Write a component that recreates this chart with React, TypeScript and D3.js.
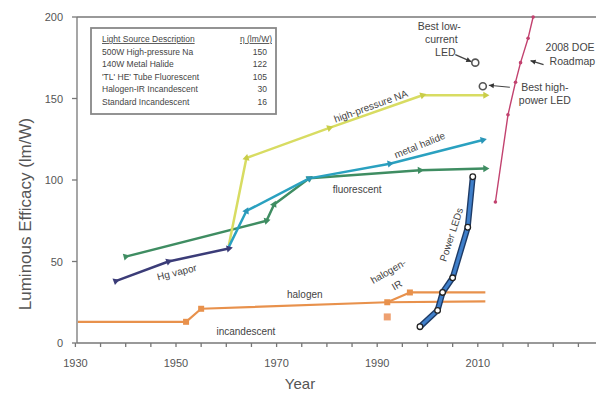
import * as React from 'react';
import * as d3 from 'd3';

type Pt = [number, number];

// series: [year, lm/W]
const incandescent: Pt[] = [[1930.5, 13], [1952, 13], [1955, 21], [1992, 25], [2011.5, 25.5]];
const halogenIR: Pt[] = [[1992, 25], [1996.5, 31], [2011.5, 31]];
const standardIncandescent: Pt[] = [[1992, 16]];
const hgVapor: Pt[] = [[1938, 38], [1948.5, 50], [1960.5, 58]];
const fluorescent: Pt[] = [[1940, 53], [1968, 75], [1969.5, 85], [1976.5, 101], [1998.5, 106], [2011.5, 107]];
const metalHalide: Pt[] = [[1960.5, 59], [1964, 81], [1976.5, 101], [1992.5, 110], [2011, 124.5]];
const highPressureNa: Pt[] = [[1960.5, 60], [1964, 113.5], [1980.5, 132], [1999, 152], [2011.5, 152]];
const powerLEDs: Pt[] = [[1998.5, 10], [2002, 20], [2003, 31], [2005, 40], [2008, 71], [2009, 102]];
const doeRoadmap: Pt[] = [[2013.5, 86.5], [2016, 140], [2017.5, 160], [2018.5, 172], [2020, 187], [2021, 200]];
const bestLowCurrent: Pt = [2009.5, 172];
const bestHighPower: Pt = [2011, 157.5];

const xTickLabels = [1930, 1950, 1970, 1990, 2010];
const yTicks = [0, 50, 100, 150, 200];

const tableRows = [
  ['500W High-pressure Na', '150'],
  ['140W Metal Halide', '122'],
  ["'TL' HE' Tube Fluorescent", '105'],
  ['Halogen-IR Incandescent', '30'],
  ['Standard Incandescent', '16'],
];

// curve labels: text, year, value, angle
const curveLabels: [string, number, number, number][] = [
  ['high-pressure NA', 1988.8, 144.8, -20],
  ['metal halide', 1998.5, 120.9, -22],
  ['fluorescent', 1986, 93.9, 0],
  ['Hg vapor', 1950.2, 42.9, -14],
  ['halogen', 1975.6, 29.4, 0],
  ['incandescent', 1963.9, 6.7, 0],
  ['halogen-', 1992.3, 43.5, -30],
  ['IR', 1994, 35, -30],
  ['Power LEDs', 2004.9, 66.3, -72],
];

const W = 596;
const H = 394;
const FONT = 'Liberation Sans, Arial, sans-serif';

const x = d3.scaleLinear().domain([1970, 2010]).range([276.6, 477.8]);
const y = d3.scaleLinear().domain([0, 200]).range([343, 17]);

const line = d3.line<Pt>().x(d => x(d[0])).y(d => y(d[1]));

const tri = d3.symbol().type(d3.symbolTriangle).size(22)();

// small triangles along a series, pointing along the segment
const Markers = ({data, color, skipFirst = false}: {data: Pt[], color: string, skipFirst?: boolean}) => (
  <g fill={color}>
    {data.map((d, i) => {
      if (i === 0 && skipFirst) return null;
      const a = i > 0 ? data[i - 1] : data[1];
      const ang = Math.atan2(y(d[1]) - y(a[1]), x(d[0]) - x(a[0])) * 180 / Math.PI + (i > 0 ? 90 : -90);
      return <path key={i} d={tri!} transform={`translate(${x(d[0])},${y(d[1])}) rotate(${ang})`}/>;
    })}
  </g>
);

const Arrow = ({x1, y1, x2, y2}: {x1: number, y1: number, x2: number, y2: number}) => {
  const ang = Math.atan2(y2 - y1, x2 - x1) * 180 / Math.PI;
  return (
    <g>
      <line x1={x1} y1={y1} x2={x2} y2={y2} stroke="#444" strokeWidth={1.2}/>
      <path d="M0,0 L-5,-2.5 L-5,2.5 Z" fill="#333" transform={`translate(${x2},${y2}) rotate(${ang})`}/>
    </g>
  );
};

export default function App() {
  const minorTicks = d3.range(1930, 2035, 5);
  const lc = [x(bestLowCurrent[0]), y(bestLowCurrent[1])];
  const hp = [x(bestHighPower[0]), y(bestHighPower[1])];
  const rm = doeRoadmap[3];
  const rmPx = [x(rm[0]), y(rm[1])];

  return (
    <svg width={W} height={H} style={{position: 'absolute', left: 0, top: 0, background: '#fff'}}>
      {/* frame */}
      <g stroke="#777" strokeWidth={1.3}>
        <line x1={77} y1={17} x2={W} y2={17}/>
        <line x1={77} y1={17} x2={77} y2={343}/>
        <line x1={77} y1={343} x2={W} y2={343}/>
        {minorTicks.map(t => <line key={t} x1={x(t)} x2={x(t)} y1={343} y2={347}/>)}
        {yTicks.map(t => <line key={t} x1={72} x2={77} y1={y(t)} y2={y(t)}/>)}
      </g>
      <g fontFamily={FONT} fontSize={11} fill="#555">
        {xTickLabels.map(t => <text key={t} x={x(t)} y={367} textAnchor="middle">{t}</text>)}
        {yTicks.map(t => <text key={t} x={63} y={y(t) + 4} textAnchor="end">{t}</text>)}
      </g>
      <text x={300} y={389} textAnchor="middle" fontFamily={FONT} fontSize={15} fill="#555">Year</text>
      <text transform="translate(31,214) rotate(-90)" textAnchor="middle" fontFamily={FONT} fontSize={17} fill="#555">
        Luminous Efficacy (lm/W)
      </text>

      {/* table */}
      <rect x={91} y={28} width={185} height={86} fill="#fff" stroke="#888" strokeWidth={1.8}/>
      <g fontFamily={FONT} fontSize={8.5} fill="#444">
        <text x={102} y={42} textDecoration="underline">Light Source Description</text>
        <text x={272} y={42} textAnchor="end" textDecoration="underline">η (lm/W)</text>
        {tableRows.map((r, i) => (
          <g key={r[0]}>
            <text x={102} y={55 + i * 12.4}>{r[0]}</text>
            <text x={267} y={55 + i * 12.4} textAnchor="end">{r[1]}</text>
          </g>
        ))}
      </g>

      {/* series */}
      <g fill="none" strokeLinejoin="round">
        <path d={line(incandescent)!} stroke="#e8914c" strokeWidth={2.2}/>
        <path d={line(halogenIR)!} stroke="#e8914c" strokeWidth={2.2}/>
        <path d={line(hgVapor)!} stroke="#3b3c78" strokeWidth={2.5}/>
        <path d={line(fluorescent)!} stroke="#3f8d62" strokeWidth={2.5}/>
        <path d={line(highPressureNa)!} stroke="#d8dc62" strokeWidth={2.5}/>
        <path d={line(metalHalide)!} stroke="#2aa1c0" strokeWidth={2.5}/>
        <path d={line(doeRoadmap)!} stroke="#c2426f" strokeWidth={1.4}/>
        <path d={line(powerLEDs)!} stroke="#1e3b66" strokeWidth={6}/>
        <path d={line(powerLEDs)!} stroke="#3f7fca" strokeWidth={3.2}/>
      </g>
      <g fill="#e8914c">
        {[incandescent[1], incandescent[2], incandescent[3], halogenIR[1]].map((d, i) => (
          <rect key={i} x={x(d[0]) - 3} y={y(d[1]) - 3} width={6} height={6}/>
        ))}
        {standardIncandescent.map((d, i) => (
          <rect key={i} x={x(d[0]) - 3.5} y={y(d[1]) - 3.5} width={7} height={7} fill="#eea070"/>
        ))}
      </g>
      <Markers data={hgVapor} color="#3b3c78"/>
      <Markers data={fluorescent} color="#3f8d62"/>
      <Markers data={highPressureNa} color="#c9cd48" skipFirst/>
      <Markers data={metalHalide} color="#2a96b8" skipFirst/>
      <g fill="#c2426f">
        {doeRoadmap.map((d, i) => <circle key={i} cx={x(d[0])} cy={y(d[1])} r={1.8}/>)}
      </g>
      <g fill="#fff" stroke="#222" strokeWidth={1.3}>
        {powerLEDs.map((d, i) => <circle key={i} cx={x(d[0])} cy={y(d[1])} r={2.8}/>)}
      </g>
      <g fill="#fff" stroke="#555" strokeWidth={1.6}>
        <circle cx={lc[0]} cy={lc[1]} r={3.5}/>
        <circle cx={hp[0]} cy={hp[1]} r={3.5}/>
      </g>

      {/* curve labels */}
      <g fontFamily={FONT} fontSize={10} fill="#444">
        {curveLabels.map(([t, yr, v, a]) => (
          <text key={t} transform={`translate(${x(yr)},${y(v)}) rotate(${a})`} textAnchor="middle" dominantBaseline="middle">{t}</text>
        ))}
      </g>

      {/* annotations */}
      <g fontFamily={FONT} fontSize={10.5} fill="#444">
        <text x={lc[0] - 36} y={lc[1] - 33} textAnchor="middle">Best low-</text>
        <text x={lc[0] - 34} y={lc[1] - 20} textAnchor="middle">current</text>
        <text x={lc[0] - 30} y={lc[1] - 7} textAnchor="middle">LED</text>
        <text x={rmPx[0] + 25} y={rmPx[1] - 12}>2008 DOE</text>
        <text x={rmPx[0] + 29} y={rmPx[1] + 2}>Roadmap</text>
        <text x={hp[0] + 62} y={hp[1] + 5} textAnchor="middle">Best high-</text>
        <text x={hp[0] + 62} y={hp[1] + 18} textAnchor="middle">power LED</text>
      </g>
      <Arrow x1={lc[0] - 20} y1={lc[1] - 8} x2={lc[0] - 4} y2={lc[1] - 1}/>
      <Arrow x1={hp[0] + 27} y1={hp[1] + 1} x2={hp[0] + 6} y2={hp[1] - 1}/>
      <Arrow x1={rmPx[0] + 23} y1={rmPx[1] + 2} x2={rmPx[0] + 10} y2={rmPx[1] - 2}/>
    </svg>
  );
}
